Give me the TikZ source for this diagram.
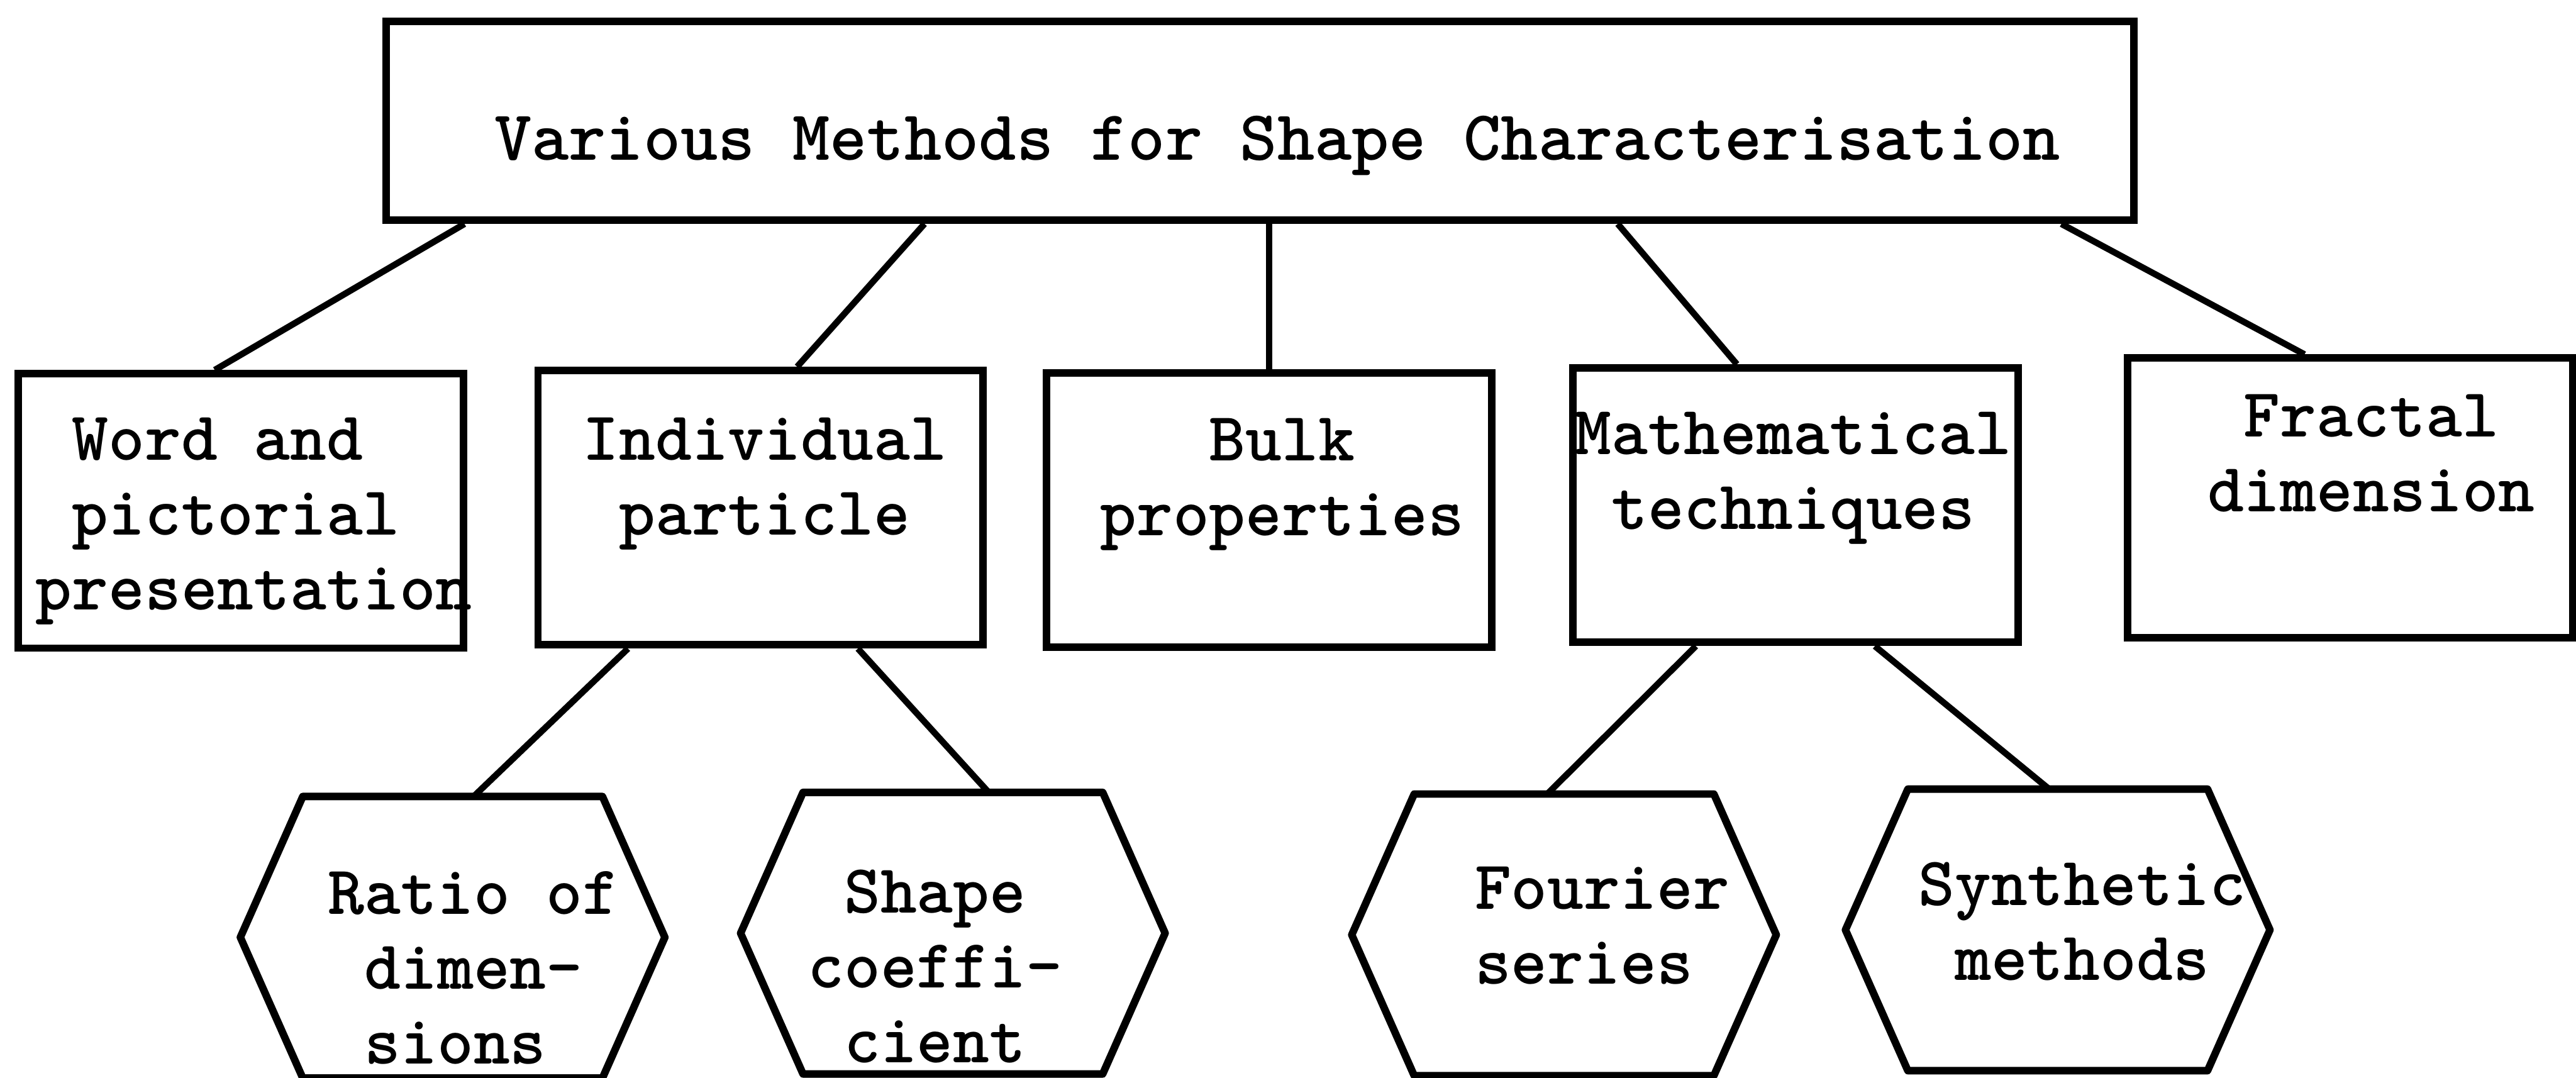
\documentclass[tikz,border=0pt]{standalone}
\usepackage{tikz}

\tikzset{
  catbox/.style={draw, line width=1.3pt, minimum width=2.71cm, minimum height=1.67cm, inner sep=0pt},
  hexcore/.style={minimum width=1.81cm, minimum height=1.70cm, inner sep=0pt},
  link/.style={line width=1.1pt},
  lbl/.style={font=\fontsize{12}{12.95}\selectfont\ttfamily\bfseries, align=left, anchor=north west, inner sep=0pt},
}

\begin{document}
\begin{tikzpicture}
  \useasboundingbox (0,0) rectangle (15.68,-6.56);
  % Title box
  \node[catbox, minimum width=10.64cm, minimum height=1.21cm] (title) at (7.67,-0.735) {};
  \node[lbl, anchor=base, font=\fontsize{12.3}{13}\selectfont\ttfamily\bfseries] (title-t) at (7.775,-0.975) {Various Methods for Shape Characterisation};
  % Method boxes
  \node[catbox] (word) at (1.465,-3.11) {};
  \node[catbox] (ind) at (4.63,-3.09) {};
  \node[catbox] (bulk) at (7.725,-3.105) {};
  \node[catbox] (math) at (10.93,-3.075) {};
  \node[catbox, minimum height=1.70cm] (fract) at (14.305,-3.03) {};
  \node[lbl] (word-t) at (0.21,-2.536) {~Word and\\~pictorial\\presentation};
  \node[lbl] (ind-t) at (3.54,-2.536) {Individual\\~particle};
  \node[lbl] (bulk-t) at (6.69,-2.54) {~~~Bulk\\properties};
  \node[lbl] (math-t) at (9.58,-2.50) {Mathematical\\~techniques};
  \node[lbl] (fract-t) at (13.43,-2.395) {~Fractal\\dimension};
  % Sub-methods (hexagons)
  \node[hexcore] (ratio) at (2.755,-5.705) {};
  \node[hexcore] (coeff) at (5.80,-5.68) {};
  \node[hexcore] (fourier) at (9.52,-5.69) {};
  \node[hexcore] (synth) at (12.525,-5.66) {};
  \foreach \h in {ratio, coeff, fourier, synth} {
    \draw[line width=1.3pt, line join=round] (\h.north west) -- (\h.north east) -- ([xshift=0.38cm]\h.east)
      -- (\h.south east) -- (\h.south west) -- ([xshift=-0.38cm]\h.west) -- cycle;
  }
  \node[lbl] (ratio-t) at (1.99,-5.296) {Ratio of\\~dimen-\\~sions};
  \node[lbl] (coeff-t) at (4.91,-5.287) {~Shape\\coeffi-\\~cient};
  \node[lbl] (fourier-t) at (8.97,-5.27) {Fourier\\series};
  \node[lbl] (synth-t) at (11.67,-5.24) {Synthetic\\~methods};
  % Connectors
  \foreach \p/\a/\c/\b in {title/0.50/word/1.22, title/3.30/ind/1.60, title/7.52/math/1.02, title/10.22/fract/1.10,
                           ind/0.57/ratio/1.04, ind/1.97/coeff/1.13, math/0.77/fourier/0.81, math/1.86/synth/0.86} {
    \draw[link] ([xshift=\a cm]\p.south west) -- ([xshift=\b cm]\c.north west);
  }
  \draw[link] (title.south -| bulk.north) -- (bulk.north);
\end{tikzpicture}
\end{document}
